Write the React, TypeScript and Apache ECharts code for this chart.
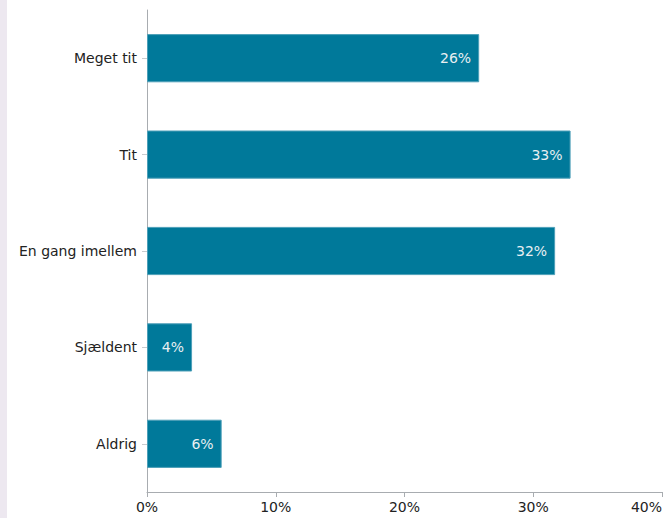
import React, { useEffect, useRef } from "react";
import * as echarts from "echarts";

const categories = ["Meget tit", "Tit", "En gang imellem", "Sjældent", "Aldrig"];
const values = [25.8, 32.9, 31.7, 3.5, 5.8];
const labels = ["26%", "33%", "32%", "4%", "6%"];
const xTicks = [0, 10, 20, 30, 40];

export default function App() {
  const ref = useRef<HTMLDivElement>(null);
  useEffect(() => {
    document.body.style.margin = "0";
    const chart = echarts.init(ref.current!, null, { renderer: "svg" });
    const font = "DejaVu Sans, Verdana, sans-serif";
    chart.setOption({
      animation: false,
      graphic: [
        { type: "rect", left: 0, top: 0, shape: { width: 7, height: 518 }, style: { fill: "#ede8f0" } },
      ],
      grid: { left: 147, right: 5, top: 10, bottom: 26, containLabel: false, outerBoundsMode: "none" },
      xAxis: {
        type: "value",
        min: xTicks[0],
        max: xTicks[xTicks.length - 1],
        interval: 10,
        axisLine: { show: true, lineStyle: { color: "#a8acb0", width: 1 } },
        axisTick: { show: true, length: 5, lineStyle: { color: "#a8acb0" } },
        splitLine: { show: false },
        axisLabel: {
          formatter: (v: number) => v + "%",
          color: "#222",
          fontFamily: font,
          fontSize: 14,
          margin: 8,
          showMaxLabel: true,
          hideOverlap: false,
          alignMaxLabel: "right",
        },
      },
      yAxis: {
        type: "category",
        inverse: true,
        data: categories,
        axisLine: { show: true, lineStyle: { color: "#a8acb0", width: 1 } },
        axisTick: { show: true, length: 5, alignWithLabel: true, lineStyle: { color: "#c8cbce" } },
        axisLabel: { color: "#222", fontFamily: font, fontSize: 14, margin: 10 },
      },
      series: [
        {
          type: "bar",
          data: values,
          barWidth: "50%",
          itemStyle: { color: "#00799a", borderColor: "#4d9fb8", borderWidth: 1 },
          label: {
            show: true,
            position: "insideRight",
            distance: 8,
            color: "#e9eff2",
            fontFamily: font,
            fontSize: 14,
            formatter: (p: any) => labels[p.dataIndex],
          },
        },
      ],
    });
    return () => chart.dispose();
  }, []);
  return <div ref={ref} style={{ width: 667, height: 518 }} />;
}
